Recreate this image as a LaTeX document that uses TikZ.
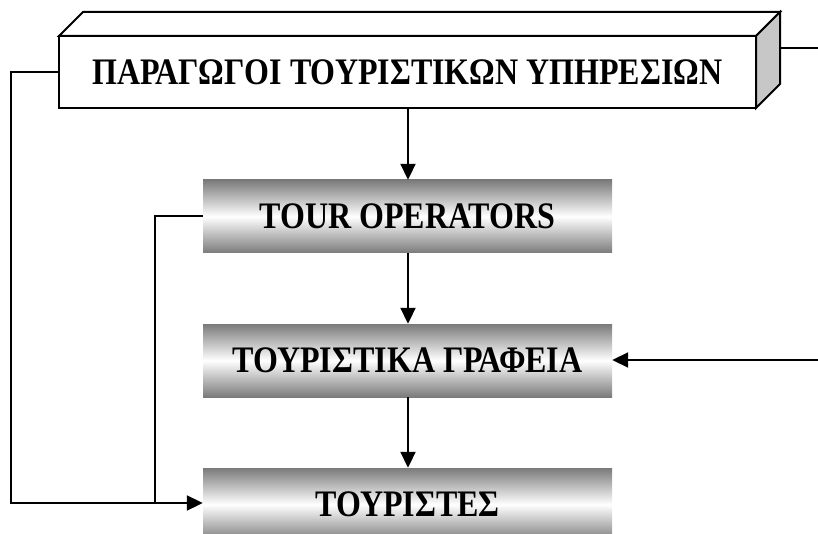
\documentclass[tikz,border=0pt]{standalone}
\usepackage{fontspec}
\setmainfont{Liberation Serif}
\usetikzlibrary{arrows.meta}
% labels are set slightly taller than the font's natural proportions
\newcommand{\tallname}[1]{\scalebox{1}[1.17]{#1}}
\begin{document}
\begin{tikzpicture}[x=1pt,y=-1pt,
  lbl/.style={font=\fontsize{32}{36}\selectfont\bfseries},
  frontbox/.style={draw=black,line width=2pt,fill=white,minimum width=697pt,minimum height=72pt,inner sep=0pt,lbl},
  stage/.style={minimum width=409pt,minimum height=73pt,inner sep=0pt,lbl,
    top color=black!52,bottom color=black!52,middle color=white},
  conn/.style={line width=2pt},
  flow/.style={conn,-{Triangle[length=16pt,width=15pt]}},
  sideface/.style={draw=black,line width=2pt,fill=black!22,line join=miter},
  topface/.style={draw=black,line width=2pt,fill=white,line join=miter}]
\useasboundingbox (0,0) rectangle (818,534);
\clip (0,0) rectangle (818,534);

% producer block drawn as a 3-D bar
\draw[topface] (59,36) -- (83,12) -- (780,12) -- (756,36) -- cycle;
\draw[sideface] (756,36) -- (780,12) -- (780,84) -- (756,108) -- cycle;
\node[frontbox] (prod) at (407.5,72) {\tallname{ΠΑΡΑΓΩΓΟΙ ΤΟΥΡΙΣΤΙΚΩΝ ΥΠΗΡΕΣΙΩΝ}};

% distribution stages
\node[stage] (tour) at (407.5,216.5) {\tallname{TOUR OPERATORS}};
\node[stage] (agency) at (407.5,360.5) {\tallname{ΤΟΥΡΙΣΤΙΚΑ ΓΡΑΦΕΙΑ}};
\node[stage] (tourists) at (407.5,504.5) {\tallname{ΤΟΥΡΙΣΤΕΣ}};

% free ends of the links leaving the frame on the right
\coordinate (rightout) at (818,48);
\coordinate (rightin) at (818,360);
\coordinate (leftbus) at (11,72);
\coordinate (innerbus) at (155,216);
\coordinate (join) at (155,503);

% main chain
\draw[flow] (prod.south -| 408,0) -- (tour.north -| 408,0);
\draw[flow] (tour.south -| 408,0) -- (agency.north -| 408,0);
\draw[flow] (agency.south -| 408,0) -- (tourists.north -| 408,0);

% side links
\draw[conn] (780,48) -- (rightout);
\draw[flow] (rightin) -- (agency.east |- rightin);
\draw[flow] (prod.west |- leftbus) -- (leftbus) -- (leftbus |- join) -- (tourists.west |- join);
\draw[conn] (tour.west |- innerbus) -- (innerbus) -- (join);
\end{tikzpicture}
\end{document}
